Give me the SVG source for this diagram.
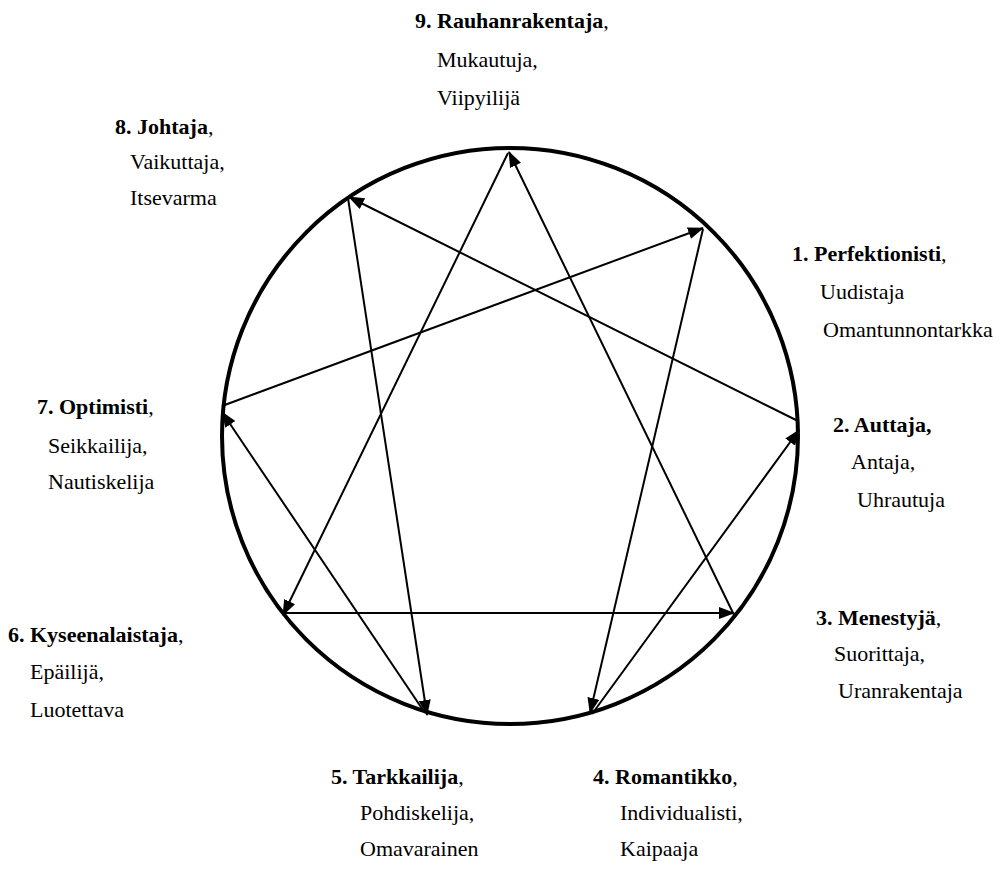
<svg xmlns="http://www.w3.org/2000/svg" width="1006" height="869" viewBox="0 0 1006 869">
<style>
text{font-family:'Liberation Serif','Times New Roman',Tinos,'DejaVu Serif',serif;font-size:22px;fill:#000}
.b{font-weight:bold}
.ring{fill:none;stroke:#000;stroke-width:4}
.c line{stroke:#000;stroke-width:2;marker-end:url(#ah)}
</style>
<defs>
<marker id="ah" markerUnits="userSpaceOnUse" markerWidth="16" markerHeight="12" viewBox="0 0 16 12" refX="15" refY="6" orient="auto">
<path d="M0,0 L16,6 L0,12 Z" fill="#000"/>
</marker>
</defs>
<rect width="1006" height="869" fill="#fff"/>
<circle class="ring" cx="510" cy="436" r="288"/>
<g class="c" id="connectors">
<line x1="703" y1="229" x2="590" y2="713"/>
<line x1="592" y1="714" x2="799" y2="430"/>
<line x1="798" y1="421" x2="349" y2="197"/>
<line x1="348" y1="198" x2="427" y2="715"/>
<line x1="425" y1="713" x2="222" y2="412"/>
<line x1="222" y1="406" x2="703" y2="228"/>
<line x1="735" y1="617" x2="509" y2="152"/>
<line x1="508" y1="153" x2="283" y2="615"/>
<line x1="285" y1="613" x2="734" y2="613"/>
</g>
<g font-family="Liberation Serif, serif">
<g id="n9"><text x="415" y="28"><tspan class="b">9. Rauhanrakentaja</tspan>,</text><text x="437" y="67">Mukautuja,</text><text x="437" y="105">Viipyilijä</text></g>
<g id="n1"><text x="792" y="261"><tspan class="b">1. Perfektionisti</tspan>,</text><text x="820" y="299">Uudistaja</text><text x="823" y="337">Omantunnontarkka</text></g>
<g id="n2"><text x="833" y="432" class="b">2. Auttaja,</text><text x="851" y="469">Antaja,</text><text x="857" y="507">Uhrautuja</text></g>
<g id="n3"><text x="816" y="625"><tspan class="b">3. Menestyjä</tspan>,</text><text x="834" y="661">Suorittaja,</text><text x="838" y="698">Uranrakentaja</text></g>
<g id="n4"><text x="593" y="784"><tspan class="b">4. Romantikko</tspan>,</text><text x="620" y="820">Individualisti,</text><text x="620" y="856">Kaipaaja</text></g>
<g id="n5"><text x="331" y="784"><tspan class="b">5. Tarkkailija</tspan>,</text><text x="360" y="820">Pohdiskelija,</text><text x="360" y="856">Omavarainen</text></g>
<g id="n6"><text x="8" y="642"><tspan class="b">6. Kyseenalaistaja</tspan>,</text><text x="30" y="679">Epäilijä,</text><text x="30" y="717">Luotettava</text></g>
<g id="n7"><text x="37" y="414"><tspan class="b">7. Optimisti</tspan>,</text><text x="48" y="453">Seikkailija,</text><text x="48" y="489">Nautiskelija</text></g>
<g id="n8"><text x="115" y="134"><tspan class="b">8. Johtaja</tspan>,</text><text x="130" y="169">Vaikuttaja,</text><text x="130" y="205">Itsevarma</text></g>
</g>
</svg>
